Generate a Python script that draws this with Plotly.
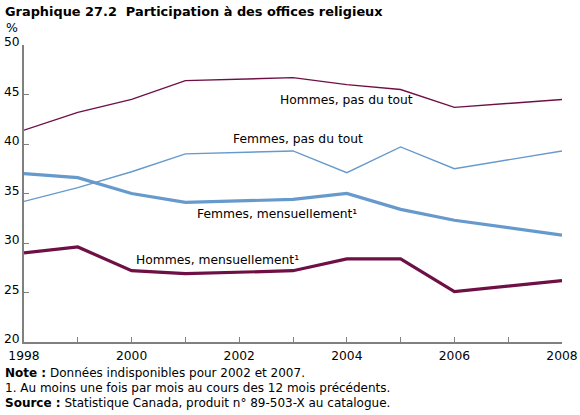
import plotly.graph_objects as go

years = [1998, 1999, 2000, 2001, 2003, 2004, 2005, 2006, 2008]
hommes_pas = [41.4, 43.2, 44.5, 46.4, 46.7, 46.0, 45.5, 43.7, 44.5]
femmes_pas = [34.2, 35.6, 37.2, 39.0, 39.3, 37.1, 39.7, 37.5, 39.3]
femmes_mens = [37.0, 36.6, 35.0, 34.1, 34.4, 35.0, 33.4, 32.3, 30.8]
hommes_mens = [29.0, 29.6, 27.2, 26.9, 27.2, 28.4, 28.4, 25.1, 26.2]

tick_years = list(range(1998, 2009))
tick_text = [str(y) if y % 2 == 0 else "" for y in tick_years]
y_ticks = [20, 25, 30, 35, 40, 45, 50]

BURG = "#6e1045"
BLUE = "#6699cc"
FONT = "DejaVu Sans"

W, H = 580, 415
ML, MR, MT, MB = 24, 18, 45, 73
PW, PH = W - ML - MR, H - MT - MB

fig = go.Figure()
fig.add_trace(go.Scatter(x=years, y=hommes_pas, mode="lines", line=dict(color=BURG, width=1.4)))
fig.add_trace(go.Scatter(x=years, y=femmes_pas, mode="lines", line=dict(color=BLUE, width=1.4)))
fig.add_trace(go.Scatter(x=years, y=femmes_mens, mode="lines", line=dict(color=BLUE, width=3.2)))
fig.add_trace(go.Scatter(x=years, y=hommes_mens, mode="lines", line=dict(color=BURG, width=3.2)))

labels = [
    ("Hommes, pas du tout", 2004.0, 44.4),
    ("Femmes, pas du tout", 2003.1, 40.5),
    ("Femmes, mensuellement¹", 2002.7, 32.9),
    ("Hommes, mensuellement¹", 2001.6, 28.3),
]
for txt, x, y in labels:
    fig.add_annotation(x=x, y=y, xref="x", yref="y", text=txt, showarrow=False,
                       font=dict(family=FONT, size=12.3, color="#000000"))


def add_text(txt, px, py, size=12.0):
    fig.add_annotation(x=(px - ML) / PW, y=(H - MB - py) / PH, xref="paper", yref="paper",
                       xanchor="left", yanchor="middle", text=txt, showarrow=False,
                       font=dict(family=FONT, size=size, color="#000000"))


add_text("<b>Graphique 27.2  Participation à des offices religieux</b>", 3, 11, size=12.9)
add_text("%", 4, 28, size=12.5)
add_text("<b>Note :</b> Données indisponibles pour 2002 et 2007.", 3, 373)
add_text("1. Au moins une fois par mois au cours des 12 mois précédents.", 3, 388)
add_text("<b>Source :</b> Statistique Canada, produit n° 89-503-X au catalogue.", 3, 403)

fig.update_layout(
    width=W, height=H,
    margin=dict(l=ML, r=MR, t=MT, b=MB, autoexpand=False),
    paper_bgcolor="white", plot_bgcolor="white",
    showlegend=False,
    font=dict(family=FONT, size=12.5, color="#000000"),
    xaxis=dict(range=[1998, 2008], tickvals=tick_years, ticktext=tick_text, automargin=False,
               showgrid=False, zeroline=False, showline=True, linecolor="#808080", linewidth=2,
               ticks="inside", ticklen=5, tickcolor="#808080", tickwidth=1,
               ticklabelstandoff=1,
               tickfont=dict(family=FONT, size=12.3)),
    yaxis=dict(range=[20, 50], tickvals=y_ticks, automargin=False,
               showgrid=False, zeroline=False, showline=True, linecolor="#808080", linewidth=2,
               ticks="inside", ticklen=5, tickcolor="#808080", tickwidth=1,
               ticklabelshift=-3,
               tickfont=dict(family=FONT, size=12.3)),
)

fig.write_html("out.html")
